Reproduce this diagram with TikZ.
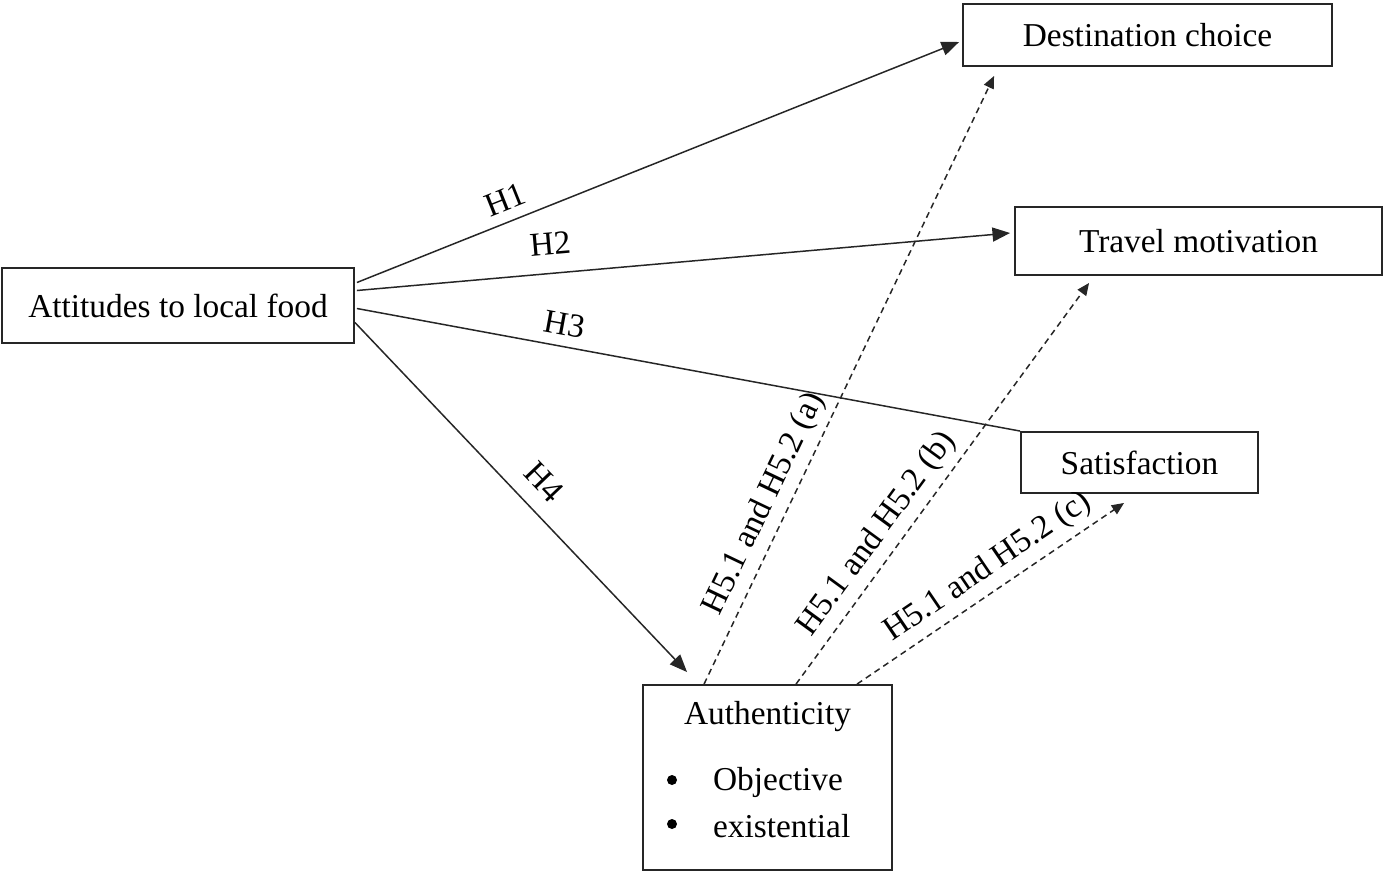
\documentclass[tikz,border=0pt]{standalone}
\usepackage{fontspec}
\setmainfont{Liberation Serif}
\usetikzlibrary{arrows.meta,calc}
\begin{document}
\begin{tikzpicture}[x=0.02cm,y=-0.02cm,
  box/.style={draw=black!85,line width=1.1pt,inner sep=0pt,font=\fontsize{19}{22}\selectfont},
  lbl/.style={font=\fontsize{19}{22}\selectfont,inner sep=1pt},
  dot/.style={circle,fill=black,inner sep=0pt,minimum size=0.2cm},
  solidarr/.style={draw=black!85,line width=0.85pt,-{Triangle[length=10pt,width=8pt]}},
  plain/.style={draw=black!85,line width=0.85pt},
  dasharr/.style={draw=black!85,line width=0.85pt,dash pattern=on 3.5pt off 2.5pt,-{Triangle[length=7pt,width=6pt]}}]
\useasboundingbox (0,0) rectangle (1387,873);
\node[box,minimum width=7.04cm,minimum height=1.5cm] (att) at (178,305.5) {Attitudes to local food};
\node[box,minimum width=7.38cm,minimum height=1.24cm] (dest) at (1147.5,35) {Destination choice};
\node[box,minimum width=7.34cm,minimum height=1.36cm] (trav) at (1198.5,241) {Travel motivation};
\node[box,minimum width=4.74cm,minimum height=1.22cm] (sat) at (1139.5,462.5) {Satisfaction};
\node[box,minimum width=4.98cm,minimum height=3.7cm] (auth) at (767.5,777.5) {};
\node[lbl] (authT) at (767.5,717) {Authenticity};
\node[dot] (b1) at (672,780) {};
\node[dot] (b2) at (672,824) {};
\node[lbl,anchor=west] (obj) at (711,782) {Objective};
\node[lbl,anchor=west] (exi) at (711,826) {existential};
% solid paths
\draw[solidarr] ($(att.east)+(2,-23)$) -- node[lbl,pos=0.26,sloped,above=5pt] (h1) {H1} ($(dest.west)+(-3,7)$);
\draw[solidarr] ($(att.east)+(2,-15)$) -- node[lbl,pos=0.30,sloped,above=9pt] (h2) {H2} ($(trav.west)+(-4,-8)$);
\draw[plain] ($(att.east)+(2,3)$) -- node[lbl,pos=0.307,sloped,above=5pt] (h3) {H3} (sat.north west);
\draw[solidarr] ($(att.east)+(0,17)$) -- node[lbl,pos=0.51,sloped,above=8pt] (h4) {H4} ($(auth.north west)+(45,-12)$);
% dashed paths
\draw[dasharr] ($(auth.north west)+(62,0)$) -- node[lbl,pos=0.28,sloped,above=3pt] (h5a) {H5.1 and H5.2 (a)} ($(dest.south west)+(32,9)$);
\draw[dasharr] ($(auth.north west)+(154,0)$) -- node[lbl,pos=0.34,sloped,above=3pt] (h5b) {H5.1 and H5.2 (b)} ($(trav.south west)+(75,7)$);
\draw[dasharr] ($(auth.north west)+(215,0)$) -- node[lbl,pos=0.54,sloped,above=3pt] (h5c) {H5.1 and H5.2 (c)} ($(sat.south west)+(104,9)$);
\end{tikzpicture}
\end{document}
